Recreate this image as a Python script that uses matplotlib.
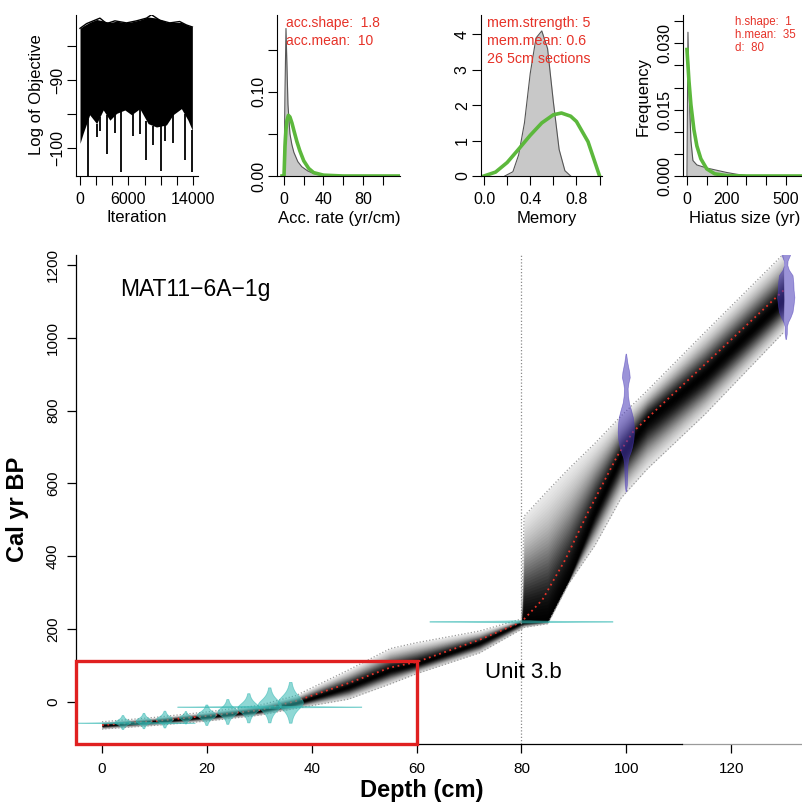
import numpy as np
import matplotlib
matplotlib.use("Agg")
import matplotlib.pyplot as plt
from matplotlib.patches import Polygon, Rectangle

plt.rcParams['font.family'] = ['Liberation Sans', 'DejaVu Sans']

W, H = 803, 807

# ---------------- data ----------------
# MCMC trace: envelope of the log objective plus the deep spikes
trace_top_it = [0, 824, 1441, 2471, 3294, 4324, 5765, 7000, 8235, 8853, 9882, 11118, 12353, 13176, 13918]
trace_top = [-82.4, -81.7, -81.4, -80.9, -81.7, -81.3, -81.6, -81.3, -80.9, -80.4, -81.2, -81.6, -81.4, -81.9, -82.2]
trace_bot_it = [0, 400, 1200, 2060, 2880, 3700, 4530, 5560, 6380, 7410, 8440, 9470, 10700, 11530, 12560, 13380, 13918]
trace_bot = [-99.3, -97.8, -95.1, -96.4, -94.4, -95.9, -94.9, -94.4, -95.1, -94.2, -96.4, -96.9, -96.6, -95.1, -94.2, -95.9, -97.4]
spike_it = [1030, 2059, 2470, 3294, 4320, 5024, 6588, 7410, 8235, 9060, 10006, 10500, 11529, 12971, 13918]
spike_val = [-105.5, -98.4, -97.5, -100.9, -97.8, -103.5, -98.2, -97.9, -101.8, -99.5, -103.4, -99.0, -99.3, -101.8, -103.5]

# accumulation rate: posterior (grey) and prior (green)
acc_x = [0, 1, 2, 3, 4, 6, 8, 10, 14, 18, 24, 30, 40]
acc_post = [0, 0.10, 0.175, 0.13, 0.085, 0.05, 0.037, 0.028, 0.017, 0.011, 0.006, 0.003, 0.0]
acc_prior_x = [-2, 0, 1, 2, 3, 4.4, 6, 8, 10, 13, 16, 20, 25, 30, 40, 60, 90, 117]
acc_prior = [0, 0, 0.035, 0.055, 0.066, 0.072, 0.070, 0.063, 0.054, 0.041, 0.030, 0.018, 0.009, 0.004, 0.001, 0, 0, 0]

# memory
mem_x = [0.18, 0.25, 0.3, 0.35, 0.4, 0.45, 0.5, 0.55, 0.6, 0.65, 0.7, 0.75]
mem_post = [0, 0.12, 0.6, 1.5, 2.9, 3.9, 4.1, 3.6, 2.1, 0.75, 0.15, 0]
mem_prior_x = [0, 0.1, 0.2, 0.3, 0.4, 0.5, 0.6, 0.67, 0.75, 0.8, 0.9, 1.0]
mem_prior = [0, 0.11, 0.38, 0.76, 1.15, 1.5, 1.73, 1.78, 1.69, 1.54, 0.97, 0]

# hiatus size
hiatus_x = [0, 5, 10, 20, 30, 50, 100, 150, 200, 250, 300, 350]
hiatus_post = [0, 0.0325, 0.02, 0.008, 0.0035, 0.0025, 0.0018, 0.0013, 0.0008, 0.0004, 0.0001, 0]
hiatus_prior_x = [0, 10, 20, 35, 50, 70, 100, 140, 200, 300, 600]
hiatus_prior = [0.0286, 0.0215, 0.0161, 0.0105, 0.0068, 0.0039, 0.0016, 0.0005, 0.0001, 0, 0]

# age-depth model
mean_depth = [0, 10, 20, 30, 37, 47, 55, 60, 72, 80, 84, 88.4, 92.7, 98.3, 101.3, 106, 115, 130]
mean_age = [-63, -52, -38, -22, 3, 52, 95, 110, 171, 220, 281, 392, 521, 676, 742, 806, 927, 1130]

band_depth = [0, 10, 20, 30, 37, 47, 55, 60, 72, 80, 80.5, 85, 89, 94, 99, 104, 115, 130]
band_mode = [-64, -53, -40, -24, -3, 42, 88, 105, 163, 218, 219, 224, 337, 521, 676, 775, 900, 1105]
band_lo = [-74, -64, -52, -36, -17, 8, 50, 78, 135, 200, 205, 215, 325, 430, 560, 640, 790, 1015]
band_hi = [-54, -42, -27, -9, 18, 88, 147, 163, 195, 228, 510, 580, 640, 710, 785, 855, 1015, 1230]

# dated levels (cyan): depth, age, half age range, half width (cm)
date_depth = [4, 8, 12, 16, 20, 24, 28, 32, 36, 6.6, 32, 80]
date_age = [-56, -52, -48, -43, -36, -27, -17, -9, -2, -58, -14, 220]
date_err = [19, 21, 23, 17, 28, 34, 40, 48, 56, 3, 3, 3]
date_width = [1.5, 1.5, 1.6, 1.2, 1.8, 1.9, 2.1, 2.2, 2.4, 11.2, 17.6, 17.5]

# calibrated 14C dates (purple), outline
c14a_depth = 100
c14a_age = [955, 930, 905, 890, 875, 860, 840, 820, 800, 780, 760, 740, 720, 700, 685, 670, 650, 620, 595, 577]
c14a_hw = [0.05, 0.3, 0.65, 0.75, 0.5, 0.35, 0.4, 0.6, 1.0, 1.35, 1.5, 1.55, 1.45, 1.2, 0.9, 0.5, 0.3, 0.25, 0.2, 0.05]
c14b_depth = 130.5
c14b_age = [1235, 1225, 1210, 1198, 1185, 1170, 1150, 1130, 1110, 1090, 1070, 1055, 1042, 1030, 1010, 995]
c14b_hw = [0.9, 0.8, 0.35, 0.3, 0.6, 1.3, 1.45, 1.5, 1.65, 1.5, 1.3, 0.9, 0.45, 0.22, 0.2, 0.05]

RED = '#E63228'
GREEN = '#5CB83C'
CYAN = (0.2, 0.72, 0.70)
PURPLE = '#4A3AB8'


def rect(left, top, right, bottom):
    return [left / W, 1 - bottom / H, (right - left) / W, (bottom - top) / H]


def fx(px):
    return px / W


def fy(py):
    return 1 - py / H


fig = plt.figure(figsize=(W / 100, H / 100), dpi=100)


def small_panel(r, xlim, ylim, xticks, xlabels, yticks, ylabels):
    ax = fig.add_axes(r)
    ax.set_xlim(xlim)
    ax.set_ylim(ylim)
    for s in ['top', 'right']:
        ax.spines[s].set_visible(False)
    for s in ['left', 'bottom']:
        ax.spines[s].set_linewidth(0.8)
    ax.set_xticks(xticks)
    ax.set_xticklabels(xlabels)
    ax.set_yticks(yticks)
    ax.set_yticklabels(ylabels, rotation=90, va='center')
    ax.tick_params(axis='both', direction='out', length=6.5, width=0.8, labelsize=11.5)
    ax.tick_params(axis='x', pad=5)
    ax.tick_params(axis='y', pad=1.5)
    return ax


# ---- panel 1: trace ----
ax1 = small_panel(rect(76, 15, 198, 176), (-496, 14619), (-104.1, -80.44),
                  range(0, 14001, 2000), ['0', '', '', '6000', '', '', '', '14000'],
                  [-100, -95, -90, -85], ['\u2212100', '', '\u221290', ''])
top_i = np.interp(trace_bot_it, trace_top_it, trace_top)
ax1.fill_between(trace_bot_it, trace_bot, top_i, color='black', lw=0)
ax1.plot(trace_top_it, trace_top, color='black', lw=1)
spike_base = np.interp(spike_it, trace_bot_it, trace_bot)
ax1.vlines(spike_it, spike_val, spike_base, color='black', lw=1.3)
fig.text(fx(37), fy(95), 'Log of Objective', rotation=90, ha='center', va='center', fontsize=12)
fig.text(fx(137), fy(218), 'Iteration', ha='center', va='center', fontsize=12)

# ---- panel 2: acc rate ----
ax2 = small_panel(rect(277, 15, 400, 176), (-7.1, 117.5), (0, 0.191),
                  range(0, 101, 20), ['0', '', '40', '', '80', ''],
                  [0, 0.05, 0.10, 0.15], ['0.00', '', '0.10', ''])
ax2.fill_between(acc_x, 0, acc_post, color='#C8C8C8', lw=0)
ax2.plot(acc_x, acc_post, color='#555555', lw=0.8)
ax2.plot(acc_prior_x, acc_prior, color=GREEN, lw=2.6)
fig.text(fx(339), fy(218), 'Acc. rate (yr/cm)', ha='center', va='center', fontsize=12)
fig.text(fx(286), fy(23), 'acc.shape:  1.8', color=RED, fontsize=10, va='center')
fig.text(fx(286), fy(41), 'acc.mean:  10', color=RED, fontsize=10, va='center')

# ---- panel 3: memory ----
ax3 = small_panel(rect(481, 15, 602, 176), (-0.026, 1.021), (0, 4.55),
                  [0, 0.2, 0.4, 0.6, 0.8, 1.0], ['0.0', '', '0.4', '', '0.8', ''],
                  [0, 1, 2, 3, 4], ['0', '1', '2', '3', '4'])
ax3.fill_between(mem_x, 0, mem_post, color='#C8C8C8', lw=0)
ax3.plot(mem_x, mem_post, color='#555555', lw=0.8)
ax3.plot(mem_prior_x, mem_prior, color=GREEN, lw=2.6)
fig.text(fx(547), fy(218), 'Memory', ha='center', va='center', fontsize=12)
for i, t in enumerate(['mem.strength: 5', 'mem.mean: 0.6', '26 5cm sections']):
    fig.text(fx(487), fy(23 + 18 * i), t, color=RED, fontsize=10.3, va='center')

# ---- panel 4: hiatus ----
ax4 = small_panel(rect(683, 15, 810, 176), (-20, 621), (0, 0.0364),
                  range(0, 501, 100), ['0', '', '200', '', '', '500'],
                  [0, 0.005, 0.01, 0.015, 0.02, 0.025, 0.03, 0.035],
                  ['0.000', '', '', '0.015', '', '', '0.030', ''])
ax4.fill_between(hiatus_x, 0, hiatus_post, color='#C8C8C8', lw=0)
ax4.plot(hiatus_x, hiatus_post, color='#555555', lw=0.8)
ax4.plot(hiatus_prior_x, hiatus_prior, color=GREEN, lw=2.6)
fig.text(fx(643), fy(97), 'Frequency', rotation=90, ha='center', va='center', fontsize=12)
fig.text(fx(745), fy(218), 'Hiatus size (yr)', ha='center', va='center', fontsize=12)
for i, t in enumerate(['h.shape:  1', 'h.mean:  35', 'd:  80']):
    fig.text(fx(735), fy(22 + 13 * i), t, color=RED, fontsize=8.3, va='center')

# ---- main age-depth panel ----
ax = fig.add_axes(rect(76, 255, 803, 744))
ax.set_xlim(-4.96, 133.7)
ax.set_ylim(-115, 1227)
for s in ['top', 'right']:
    ax.spines[s].set_visible(False)
ax.spines['left'].set_linewidth(0.9)
ax.spines['bottom'].set_linewidth(0.9)
ax.spines['bottom'].set_bounds(-4.96, 110.7)
ax.plot([110.7, 133.7], [-115, -115], color='#9A9A9A', lw=0.9, clip_on=False)
ax.set_xticks(range(0, 121, 20))
ax.set_yticks(range(0, 1201, 200))
ax.tick_params(axis='both', direction='out', length=6.5, width=0.9, labelsize=11)
ax.tick_params(axis='x', pad=6.5)
ax.tick_params(axis='y', pad=5)
for lab in ax.get_yticklabels():
    lab.set_rotation(90)
    lab.set_va('center')

# grey-scale band: nested layers between mode and 95% bounds,
# opacities chosen so the darkness fades smoothly away from the mode
bd = np.array(band_depth)
bm = np.array(band_mode, dtype=float)
blo = np.array(band_lo, dtype=float)
bhi = np.array(band_hi, dtype=float)
n_layers = 40
fr = np.linspace(1.0, 0.0, n_layers + 1)[:-1]
dark = 0.99 * np.exp(-2.4 * fr ** 2)
prev_t = 1.0
for f, dk in zip(fr, dark):
    t = 1 - dk
    a = 1 - t / prev_t
    prev_t = t
    ax.fill_between(bd, bm - f * (bm - blo), bm + f * (bhi - bm), color='black', alpha=a, lw=0, zorder=1)

ax.plot(band_depth, band_lo, color='#9A9A9A', ls=(0, (1, 1.6)), lw=0.9, zorder=2)
ax.plot(band_depth, band_hi, color='#9A9A9A', ls=(0, (1, 1.6)), lw=0.9, zorder=2)
ax.axvline(80, color='#8A8A8A', ls=(0, (1, 1.6)), lw=0.9, zorder=2)
ax.plot(mean_depth, mean_age, color=RED, ls=(0, (1, 2)), lw=1.3, zorder=3)

# cyan dates drawn as t-shaped spindles
s = np.linspace(-1, 1, 81)
prof = (1 + (2.6 * s) ** 2 / 2.5) ** -1.75
for d, a, e, w in zip(date_depth, date_age, date_err, date_width):
    xs = np.concatenate([d + w * prof, (d - w * prof)[::-1]])
    ys = np.concatenate([a + e * s, (a + e * s)[::-1]])
    ax.add_patch(Polygon(np.column_stack([xs, ys]), closed=True, facecolor=CYAN, alpha=0.55,
                         edgecolor=CYAN, lw=0.6, zorder=4))

# purple calibrated dates
for d, ages, hw in [(c14a_depth, c14a_age, c14a_hw), (c14b_depth, c14b_age, c14b_hw)]:
    ages = np.array(ages, dtype=float)
    hw = np.array(hw)
    xs = np.concatenate([d + hw, (d - hw)[::-1]])
    ys = np.concatenate([ages, ages[::-1]])
    ax.add_patch(Polygon(np.column_stack([xs, ys]), closed=True, facecolor=PURPLE, alpha=0.55,
                         edgecolor=PURPLE, lw=0.5, zorder=4))

# highlighted box
ax.add_patch(Rectangle((-4.96, -115), 60 + 4.96, 113 + 115, fill=False, edgecolor='#E02020',
                       lw=2.4, clip_on=False, zorder=6))

ax.text(3.4, 1131, 'MAT11\u22126A\u22121g', fontsize=16.5, ha='left', va='center')
ax.text(73.1, 82, 'Unit 3.b', fontsize=16, ha='left', va='center')

fig.text(fx(422), fy(791), 'Depth (cm)', fontsize=17, fontweight='bold', ha='center', va='center')
fig.text(fx(18), fy(509), 'Cal yr BP', fontsize=17, fontweight='bold', rotation=90, ha='center', va='center')

fig.savefig('out.png', dpi=100)
